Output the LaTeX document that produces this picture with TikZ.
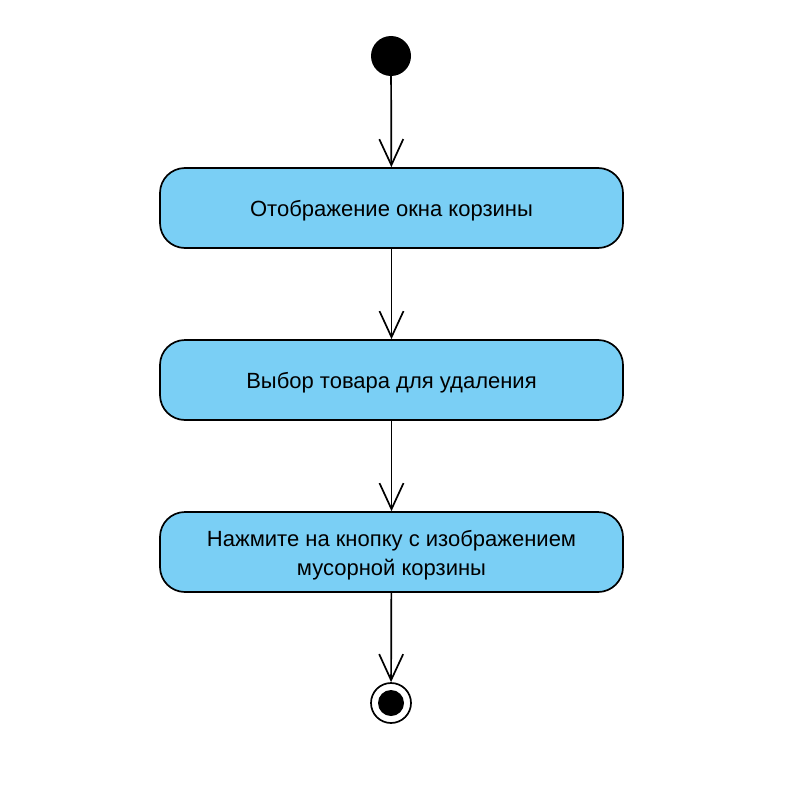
\documentclass[tikz,border=0pt]{standalone}
\usepackage{fontspec}
\setmainfont{Liberation Sans}
\usetikzlibrary{arrows.meta}
\definecolor{actfill}{HTML}{7ACFF5}
\begin{document}
\begin{tikzpicture}[x=1pt,y=-1pt,
  txt/.style={align=center, inner sep=0pt, font=\fontsize{22pt}{28.5pt}\selectfont},
  act/.style={txt, draw=black, line width=1.7pt, fill=actfill, rounded corners=25pt,
    minimum width=463pt, minimum height=80pt,
    text height=17pt, text depth=0pt},
  flow/.style={line width=1.7pt, -{Straight Barb[length=26pt, width=24pt, line width=1.7pt]}}]
\useasboundingbox (0,0) rectangle (804,808);
\node[circle, fill=black, minimum size=40pt, inner sep=0pt] (start) at (391,56) {};
\node[act] (a1) at (391.5,208) {Отображение окна корзины};
\node[act] (a2) at (391.5,380) {Выбор товара для удаления};
\node[act] (a3) at (391.5,552) {};
\node[txt] (a3t) at (391.5,555) {Нажмите на кнопку с изображением\\мусорной корзины};
\node[circle, draw=black, line width=1.7pt, fill=white, minimum size=40pt, inner sep=0pt] (end) at (391,703) {};
\node[circle, fill=black, minimum size=26pt, inner sep=0pt] at (end) {};
\draw[flow] (start) -- (a1);
\draw[flow] (a1) -- (a2);
\draw[flow] (a2) -- (a3);
\draw[flow] (a3) -- (end);
\end{tikzpicture}
\end{document}
